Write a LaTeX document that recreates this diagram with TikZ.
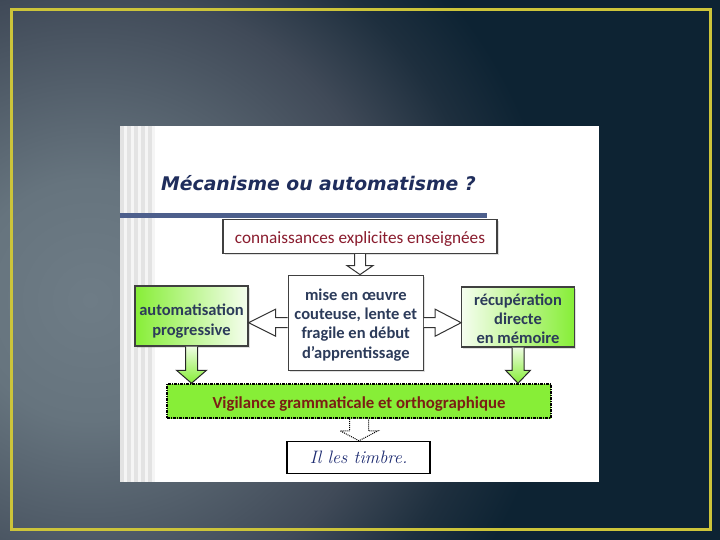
\documentclass[tikz,border=0pt]{standalone}
\usepackage{fontspec}
\newfontfamily\bodyfont{Carlito}
\newfontfamily\titlefont{DejaVu Sans}
\usetikzlibrary{calc,shadows}

\definecolor{bgA}{HTML}{6E7C86}
\definecolor{bgB}{HTML}{66747E}
\definecolor{bgC}{HTML}{404A58}
\definecolor{bgD}{HTML}{1E2F3E}
\definecolor{bgE}{HTML}{0D2333}
\definecolor{frameyellow}{HTML}{CCC43A}
\definecolor{titleblue}{HTML}{1F2D5C}
\definecolor{barblue}{HTML}{4D5F8C}
\definecolor{darkred}{HTML}{8A1C2E}
\definecolor{brownred}{HTML}{7B1D14}
\definecolor{slateblue}{HTML}{2C3B5A}
\definecolor{vgreen}{RGB}{135,238,55}
\definecolor{inkblue}{HTML}{1C2A70}

% the path's radius is 25bp of the shading
\pgfdeclareradialshading{slidebg}{\pgfpoint{0bp}{0bp}}{%
  color(0bp)=(bgA); color(3bp)=(bgB); color(7.75bp)=(bgC);
  color(10bp)=(bgD); color(11.75bp)=(bgE); color(50bp)=(bgE)}

% hollow block arrow pointing down: style, from, to, shaft half, head half, head length
\newcommand{\blockdown}[6]{%
  \draw[#1] let \p1=(#2), \p2=(#3) in
    (\x1-#4pt,\y1) -- (\x1-#4pt,\y2+#6pt) -- (\x1-#5pt,\y2+#6pt) -- (\x1,\y2)
    -- (\x1+#5pt,\y2+#6pt) -- (\x1+#4pt,\y2+#6pt) -- (\x1+#4pt,\y1);}
% hollow block arrow pointing sideways
\newcommand{\blockside}[6]{%
  \draw[#1] let \p1=(#2), \p2=(#3), \n1={ifthenelse(\x2>\x1,1,-1)} in
    (\x1,\y1+#4pt) -- (\x2-\n1*#6pt,\y1+#4pt) -- (\x2-\n1*#6pt,\y1+#5pt) -- (\x2,\y1)
    -- (\x2-\n1*#6pt,\y1-#5pt) -- (\x2-\n1*#6pt,\y1-#4pt) -- (\x1,\y1-#4pt);}
% strut that pushes a node's text down
\newcommand{\lowstrut}[1]{\rule{0pt}{#1}}

\begin{document}
\begin{tikzpicture}[x=1pt, y=-1pt,
  plainbox/.style={draw=black!75, fill=white, line width=1.2pt, inner sep=0pt,
    align=center, drop shadow={opacity=0.25, shadow xshift=1.5pt, shadow yshift=-1.5pt}},
  greenbox/.style={plainbox, font=\bodyfont\fontsize{16.5}{19.3}\selectfont\bfseries,
    text=slateblue},
  hollow/.style={draw=black!80, fill=white, line width=1pt},
  greenarrow/.style={draw=black!85, line width=1pt, top color=vgreen!15,
    bottom color=vgreen},
  dotarrow/.style={draw=black, fill=white, line width=1pt, densely dotted},
]
\useasboundingbox (0,0) rectangle (720,540);

% slide background and frame
\begin{scope}
  \clip (0,0) rectangle (720,540);
  \fill[bgE] (0,0) rectangle (720,540);
  \shade[shading=slidebg] (90,300) circle [radius=1000pt];
\end{scope}
\draw[frameyellow, line width=3pt] (11,10) rectangle (710,529);

% white sheet with its stripes
\fill[white] (120,126) rectangle (599,481.5);
\fill[black!11] (120,126) rectangle (155,481.5);
\foreach \sx in {124,131,...,152}
  \fill[black!4] (\sx,126) rectangle (\sx+3,481.5);
\fill[barblue] (120,213) rectangle (487,218.5);

\node[anchor=base west, inner sep=0pt, text=titleblue,
  font=\titlefont\bfseries\itshape\fontsize{18.8}{22}\selectfont]
  (title) at (161,191) {Mécanisme ou automatisme ?};

% boxes
\node[plainbox, minimum width=274pt, minimum height=34pt, text=darkred,
  font=\bodyfont\fontsize{17.2}{19}\selectfont]
  (known) at (360,236.5) {\lowstrut{16pt}connaissances explicites enseignées};
\node[plainbox, minimum width=135pt, minimum height=95pt, text=slateblue,
  font=\bodyfont\fontsize{16.5}{19.3}\selectfont\bfseries]
  (mid) at (355.8,322.7) {\lowstrut{16pt}mise en œuvre\\couteuse, lente et\\fragile en début\\d’apprentissage};
\node[greenbox, minimum width=113pt, minimum height=60pt,
  left color=vgreen, right color=vgreen!8]
  (auto) at (191.5,316) {\lowstrut{22pt}automatisation\\progressive};
\node[greenbox, minimum width=112.5pt, minimum height=60pt,
  left color=vgreen!8, right color=vgreen]
  (recall) at (518,317) {\lowstrut{15pt}récupération\\directe\\en mémoire};
\node[minimum width=384pt, minimum height=34pt, inner sep=0pt, text=brownred,
  font=\bodyfont\fontsize{16.8}{19}\selectfont\bfseries,
  left color=vgreen, middle color=vgreen!12, right color=vgreen,
  draw=black, line width=1.5pt, dash pattern=on 3pt off 1pt on 1pt off 1pt]
  (vig) at (359,401) {\lowstrut{18pt}Vigilance grammaticale et orthographique};
\node[draw=black, fill=white, line width=1.5pt, minimum width=143pt,
  minimum height=32pt, inner sep=0pt, text=inkblue,
  font=\fontsize{18}{20}\selectfont\itshape]
  (written) at (358.7,457.5) {Il les timbre.};

% block arrows
\blockdown{hollow}{known.south}{mid.north}{5.5}{13}{9}
\blockside{hollow}{mid.west}{auto.east}{5}{13.5}{27}
\blockside{hollow}{mid.east}{recall.west}{5}{13.5}{26}
\blockdown{greenarrow}{auto.south}{vig.north}{6}{15}{13}
\blockdown{greenarrow}{recall.south}{vig.north}{6}{12.5}{13}
\blockdown{dotarrow}{vig.south}{written.north}{9.5}{19}{10}
\end{tikzpicture}
\end{document}
